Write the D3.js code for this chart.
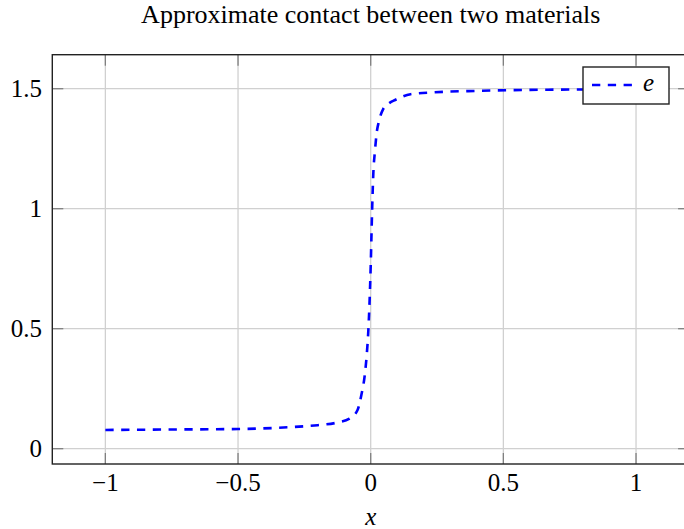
<!DOCTYPE html>
<html>
<head>
<meta charset="utf-8">
<script src="https://cdn.jsdelivr.net/npm/d3@7"></script>
<style>
  body { margin: 0; background: #fff; }
  text { font-family: "Liberation Serif", "DejaVu Serif", serif; fill: #000; }
</style>
</head>
<body>
<div id="chart"></div>
<script>
// data
var xs = [-1, -0.75, -0.5, -0.3, -0.2, -0.13, -0.08, -0.05, -0.035, -0.022, -0.015, -0.009, -0.005, 0,
          0.005, 0.01, 0.016, 0.023, 0.03, 0.047, 0.07, 0.092, 0.15, 0.24, 0.4, 0.6, 0.8, 1]
var es = [0.078, 0.08, 0.082, 0.09, 0.098, 0.108, 0.125, 0.16, 0.225, 0.31, 0.39, 0.49, 0.59, 0.76,
          0.98, 1.15, 1.24, 1.32, 1.36, 1.415, 1.44, 1.453, 1.477, 1.485, 1.491, 1.495, 1.497, 1.498]
var xTicks = [-1, -0.5, 0, 0.5, 1]
var yTicks = [0, 0.5, 1, 1.5]
var seriesName = "e"

var width = 684,
    height = 529

// plot area edges
var pLeft = 52.3, pRight = 689.1, pTop = 54.7, pBottom = 464

var svg = d3.select("#chart")
  .append("svg")
    .attr("width", width)
    .attr("height", height)

var x = d3.scaleLinear().domain([-1.2, 1.2]).range([pLeft, pRight])
var y = d3.scaleLinear().domain([-0.0638, 1.6417]).range([pBottom, pTop])

var fmt = function(d) { return d < 0 ? "\u2212" + Math.abs(d) : String(d) }

// grid
svg.append("g").selectAll("line").data(xTicks).enter().append("line")
  .attr("x1", d => x(d)).attr("x2", d => x(d))
  .attr("y1", pTop).attr("y2", pBottom)
  .attr("stroke", "#d0d0d0").attr("stroke-width", 1.3)
svg.append("g").selectAll("line").data(yTicks).enter().append("line")
  .attr("x1", pLeft).attr("x2", pRight)
  .attr("y1", d => y(d)).attr("y2", d => y(d))
  .attr("stroke", "#d0d0d0").attr("stroke-width", 1.3)

// tick marks, inside on all four sides
var tl = 11
var ticks = svg.append("g").attr("stroke", "#808080").attr("stroke-width", 1.3)
xTicks.forEach(function(d) {
  ticks.append("line").attr("x1", x(d)).attr("x2", x(d)).attr("y1", pBottom).attr("y2", pBottom - tl)
  ticks.append("line").attr("x1", x(d)).attr("x2", x(d)).attr("y1", pTop).attr("y2", pTop + tl)
})
yTicks.forEach(function(d) {
  ticks.append("line").attr("x1", pLeft).attr("x2", pLeft + tl).attr("y1", y(d)).attr("y2", y(d))
  ticks.append("line").attr("x1", pRight).attr("x2", pRight - tl).attr("y1", y(d)).attr("y2", y(d))
})

// curve
var line = d3.line()
  .x(function(d, i) { return x(xs[i]) })
  .y(function(d) { return y(d) })
  .curve(d3.curveMonotoneX)

svg.append("path")
  .datum(es)
  .attr("d", line)
  .attr("fill", "none")
  .attr("stroke", "#0000ff")
  .attr("stroke-width", 2.6)
  .attr("stroke-dasharray", "8.3,7.5")

// frame
svg.append("rect")
  .attr("x", pLeft).attr("y", pTop)
  .attr("width", pRight - pLeft).attr("height", pBottom - pTop)
  .attr("fill", "none").attr("stroke", "#222").attr("stroke-width", 1.4)

// tick labels
svg.append("g").selectAll("text").data(xTicks).enter().append("text")
  .attr("x", d => x(d)).attr("y", 491)
  .attr("text-anchor", "middle")
  .style("font-size", "25px")
  .text(fmt)
svg.append("g").selectAll("text").data(yTicks).enter().append("text")
  .attr("x", 42).attr("y", d => y(d) + 8.3)
  .attr("text-anchor", "end")
  .style("font-size", "25px")
  .text(fmt)

// axis label
svg.append("text")
  .attr("x", x(0)).attr("y", 525)
  .attr("text-anchor", "middle")
  .style("font-size", "25px").style("font-style", "italic")
  .text("x")

// title
svg.append("text")
  .attr("x", x(0)).attr("y", 23)
  .attr("text-anchor", "middle")
  .style("font-size", "26px")
  .text("Approximate contact between two materials")

// legend
var legend = svg.append("g")
legend.append("rect")
  .attr("x", 583).attr("y", 67).attr("width", 86).attr("height", 37)
  .attr("fill", "#fff").attr("stroke", "#222").attr("stroke-width", 1.4)
legend.append("line")
  .attr("x1", 592).attr("x2", 632).attr("y1", 85).attr("y2", 85)
  .attr("stroke", "#0000ff").attr("stroke-width", 2.6)
  .attr("stroke-dasharray", "8.3,7.5")
legend.append("text")
  .attr("x", 643).attr("y", 91)
  .style("font-size", "25px").style("font-style", "italic")
  .text(seriesName)
</script>
</body>
</html>
